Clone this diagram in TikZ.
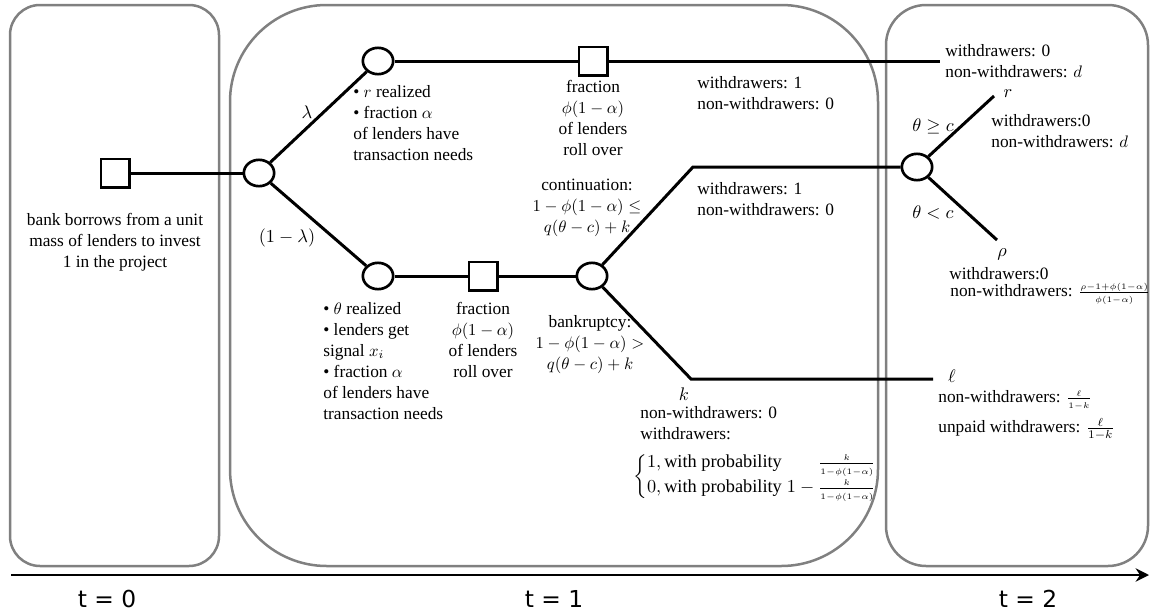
\documentclass[tikz,border=0pt]{standalone}
\usepackage{amsmath}
\usepackage{fontspec}
\setmainfont{Liberation Serif}
\newfontfamily\axisfont{DejaVu Sans}
\usetikzlibrary{arrows.meta,shapes.geometric}
\tikzset{
  period/.style={draw=gray,line width=1.5pt},
  chance/.style={ellipse,draw,line width=1.6pt,minimum width=18.2pt,minimum height=15.8pt,inner sep=0pt,fill=white},
  move/.style={rectangle,draw,line width=1.6pt,minimum size=17pt,inner sep=0pt,fill=white},
  branch/.style={line width=1.8pt},
  note/.style={font=\fontsize{10.4}{12.6}\selectfont,inner sep=0pt,align=left,execute at begin node=\strut},
  tag/.style={font=\fontsize{11}{13}\selectfont,inner sep=0pt},
  stamp/.style={font=\axisfont\fontsize{14}{16}\selectfont,inner sep=0pt}
}
\newcommand{\tinymath}[1]{\mbox{\fontsize{5.5}{6.5}\selectfont$#1$}}
\begin{document}
\begin{tikzpicture}[x=0.6pt,y=-0.6pt]
\useasboundingbox (0,0) rectangle (1151,613);
\draw[period,rounded corners=18pt] (10,5) rectangle (219,566);
\draw[period,rounded corners=58pt] (230,5) rectangle (878,566);
\draw[period,rounded corners=24pt] (886,5) rectangle (1148,566);
\coordinate (axisL) at (11,575);
\coordinate (axisR) at (1149,575);
\draw[line width=1.3pt,-{Stealth[length=8pt,width=8pt]}] (axisL) -- (axisR);
\node[stamp] (t0) at (107,599) {t = 0};
\node[stamp] (t1) at (554,599) {t = 1};
\node[stamp] (t2) at (1028,599) {t = 2};
\node[move] (start) at (115,173) {};
\node[chance] (nature) at (259,173) {};
\node[chance] (hi) at (378,61) {};
\node[move] (hiroll) at (593,61) {};
\coordinate (hiend) at (940,61);
\node[chance] (lo) at (378,276) {};
\node[move] (loroll) at (483,276) {};
\node[chance] (run) at (592,276) {};
\coordinate (cont) at (693,167);
\node[chance] (proj) at (917,167) {};
\coordinate (bkr) at (691,379);
\coordinate (liq) at (933,379);
\coordinate (good) at (994,96);
\coordinate (bad) at (997,240);
\draw[branch] (start) -- (nature);
\draw[branch] (nature) -- (hi);
\draw[branch] (nature) -- (lo);
\draw[branch] (hi) -- (hiroll) -- (hiend);
\draw[branch] (lo) -- (loroll) -- (run);
\draw[branch] (run) -- (cont) -- (proj);
\draw[branch] (run) -- (bkr) -- (liq);
\draw[branch] (proj) -- (good);
\draw[branch] (proj) -- (bad);
\node[note,align=center,anchor=north] (invest) at (115,213) {bank borrows from a unit\\mass of lenders to invest\\1 in the project};
\node[tag] (lam) at (307,112) {$\lambda$};
\node[tag] (notlam) at (287,238) {$(1-\lambda)$};
\node[note,anchor=north west] (hitext) at (353,85) {\textbullet\ $r$ realized\\\textbullet\ fraction $\alpha$\\of lenders have\\transaction needs};
\node[note,align=center,anchor=north] (hiroltext) at (593,80) {fraction\\$\phi(1-\alpha)$\\of lenders\\roll over};
\node[note,anchor=north west] (hipay) at (697,76) {withdrawers: 1\\non-withdrawers: 0};
\node[note,anchor=north west] (hiendpay) at (945,44) {withdrawers: 0\\non-withdrawers: $d$};
\node[note,align=center,anchor=north] (conttext) at (587,179) {continuation:\\$1-\phi(1-\alpha)\leq$\\$q(\theta-c)+k$};
\node[note,anchor=north west] (contpay) at (697,182) {withdrawers: 1\\non-withdrawers: 0};
\node[tag] (geq) at (933,126) {$\theta\geq c$};
\node[tag] (less) at (933,213) {$\theta<c$};
\node[tag] (rlab) at (1008,94) {$r$};
\node[note,anchor=north west] (goodpay) at (991,114) {withdrawers:0\\non-withdrawers: $d$};
\node[tag] (rholab) at (1002,254) {$\rho$};
\node[note,anchor=north west] (badtop) at (949,264) {withdrawers:0};
\node[note,anchor=west] (badpay) at (950,293) {non-withdrawers: $\frac{\tinymath{\rho{-}1{+}\phi(1{-}\alpha)}}{\tinymath{\phi(1{-}\alpha)}}$};
\node[note,anchor=north west] (lotext) at (323,302) {\textbullet\ $\theta$ realized\\\textbullet\ lenders get\\signal $x_i$\\\textbullet\ fraction $\alpha$\\of lenders have\\transaction needs};
\node[note,align=center,anchor=north] (loroltext) at (483,302) {fraction\\$\phi(1-\alpha)$\\of lenders\\roll over};
\node[note,align=center,anchor=north] (bkrtext) at (590,315) {bankruptcy:\\$1-\phi(1-\alpha)>$\\$q(\theta-c)+k$};
\node[tag] (klab) at (684,394) {$k$};
\node[note,anchor=north west] (bkrpay) at (640,406) {non-withdrawers: 0\\withdrawers:};
\node[tag,anchor=west] (odds) at (633,477) {$\left\{\begin{array}{@{}l@{\;}r@{}}1,\text{with probability} & \frac{\tinymath{k}}{\tinymath{1{-}\phi(1{-}\alpha)}}\\[2pt] 0,\text{with probability} & 1-\frac{\tinymath{k}}{\tinymath{1{-}\phi(1{-}\alpha)}}\end{array}\right.$};
\node[tag] (elllab) at (952,376) {$\ell$};
\node[note,anchor=north west] (liqpay) at (938,390) {non-withdrawers: $\frac{\tinymath{\ell}}{\tinymath{1{-}k}}$\\[4pt]unpaid withdrawers: $\frac{\ell}{1-k}$};
\end{tikzpicture}
\end{document}
